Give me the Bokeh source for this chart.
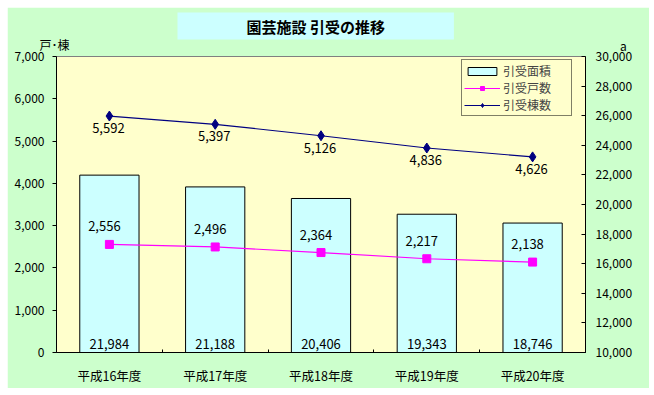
from bokeh.plotting import figure
from bokeh.models import (Range1d, LinearAxis, FixedTicker, NumeralTickFormatter,
                          ColumnDataSource, LabelSet, Label, Legend, LegendItem, Title)
from bokeh.embed import file_html
from bokeh.resources import INLINE
from bokeh.core.properties import value

# ---- data ----
years = ["平成16年度", "平成17年度", "平成18年度", "平成19年度", "平成20年度"]
area = [21984, 21188, 20406, 19343, 18746]          # 引受面積 (a), right axis
households = [2556, 2496, 2364, 2217, 2138]         # 引受戸数, left axis
buildings = [5592, 5397, 5126, 4836, 4626]          # 引受棟数, left axis
left_ticks = [0, 1000, 2000, 3000, 4000, 5000, 6000, 7000]
right_ticks = [10000, 12000, 14000, 16000, 18000, 20000, 22000, 24000, 26000, 28000, 30000]
title_text = "園芸施設 引受の推移"
left_unit = "戸･棟"
right_unit = "a"

FONT = "Noto Sans CJK JP"

n = len(years)
xs = [i + 0.5 for i in range(n)]
src = ColumnDataSource(dict(
    x=xs, area=area, hh=households, bld=buildings,
    base=[right_ticks[0]] * n,
    area_lbl=[f"{v:,}" for v in area],
    hh_lbl=[f"{v:,}" for v in households],
    bld_lbl=[f"{v:,}" for v in buildings],
))

W, H = 642, 381
p = figure(width=W, height=H, output_backend="svg", toolbar_location=None,
           x_range=Range1d(0, n), y_range=Range1d(left_ticks[0], left_ticks[-1]),
           min_border_left=49, min_border_right=64, min_border_top=49, min_border_bottom=36,
           background_fill_color="#ffffcc", border_fill_color="#ccffcc",
           outline_line_color="#808080")
p.margin = (7, 0, 0, 7)
p.extra_y_ranges = {"area": Range1d(right_ticks[0], right_ticks[-1])}
p.grid.visible = False

# x axis
xa = p.xaxis[0]
xa.ticker = FixedTicker(ticks=xs, minor_ticks=list(range(n + 1)))
xa.major_label_overrides = {x: y for x, y in zip(xs, years)}
xa.major_tick_in = 0
xa.major_tick_out = 0
xa.minor_tick_in = 3
xa.minor_tick_out = 0
xa.minor_tick_line_color = "black"
xa.major_label_standoff = 13
xa.major_label_text_font = FONT
xa.major_label_text_font_size = "12.5px"
xa.major_label_text_color = "black"
xa.axis_line_color = "black"

# left axis
ya = p.yaxis[0]
ya.ticker = FixedTicker(ticks=left_ticks)
ya.formatter = NumeralTickFormatter(format="0,0")
ya.major_tick_in = 0
ya.major_tick_out = 4
ya.minor_tick_line_color = None
ya.major_label_standoff = 8
ya.major_label_text_font = FONT
ya.major_label_text_font_size = "12px"
ya.major_label_text_color = "black"
ya.axis_line_color = "black"

# right axis
ra = LinearAxis(y_range_name="area", ticker=FixedTicker(ticks=right_ticks),
                formatter=NumeralTickFormatter(format="0,0"))
ra.major_tick_in = 4
ra.major_tick_out = 0
ra.minor_tick_line_color = None
ra.major_label_standoff = 10
ra.major_label_text_font = FONT
ra.major_label_text_font_size = "12px"
ra.major_label_text_color = "black"
ra.axis_line_color = "black"
p.add_layout(ra, "right")

# bars
bars = p.vbar(x="x", top="area", bottom="base", width=0.56, source=src, y_range_name="area",
              fill_color="#ccffff", line_color="black", line_width=1)

# lines
hh_line = p.line("x", "hh", source=src, line_color="#ff00ff", line_width=1.2)
hh_pts = p.scatter("x", "hh", source=src, marker="square", size=8,
                   fill_color="#ff00ff", line_color="#ff00ff")
bld_line = p.line("x", "bld", source=src, line_color="#000080", line_width=1.2)
bld_pts = p.scatter("x", "bld", source=src, marker="diamond", size=10,
                    fill_color="#000080", line_color="#000080")

# data labels
lbl_kw = dict(source=src, text_align="center", text_baseline="middle",
              text_font=value(FONT), text_font_size="13px", text_color="black")
p.add_layout(LabelSet(x="x", y="base", text="area_lbl", y_range_name="area",
                      y_offset=9, **lbl_kw))
p.add_layout(LabelSet(x="x", y="hh", text="hh_lbl", x_offset=-5, y_offset=18, **lbl_kw))
p.add_layout(LabelSet(x="x", y="bld", text="bld_lbl", x_offset=-1, y_offset=-12, **lbl_kw))

# units & title
p.add_layout(Label(x=-2, y=12, x_units="screen", y_units="screen", text=left_unit,
                   text_font=FONT, text_font_size="12px", text_align="center",
                   text_baseline="middle", text_color="black"), "above")
p.add_layout(Label(x=-12, y=307, x_units="screen", y_units="screen", text=right_unit,
                   text_font=FONT, text_font_size="12px", text_align="center",
                   text_baseline="middle", text_color="black"), "right")
p.add_layout(Title(text=title_text, align="left", offset=121, standoff=0,
                   text_font=FONT, text_font_size="15px", text_font_style="bold",
                   text_color="black", background_fill_color="#ccffff",
                   padding=(69, 3)), "above")

# legend
legend = Legend(items=[
    LegendItem(label="引受面積", renderers=[bars]),
    LegendItem(label="引受戸数", renderers=[hh_line, hh_pts]),
    LegendItem(label="引受棟数", renderers=[bld_line, bld_pts]),
], location=(405, 236), orientation="vertical",
    border_line_color="black", border_line_width=1, background_fill_color="#ffffcc",
    background_fill_alpha=1, label_text_font=FONT, label_text_font_size="12px",
    glyph_width=36, glyph_height=10, label_height=13, label_width=66,
    spacing=0, padding=2, margin=0, label_standoff=3)
p.add_layout(legend)

open("out.html", "w").write(file_html(p, INLINE))
